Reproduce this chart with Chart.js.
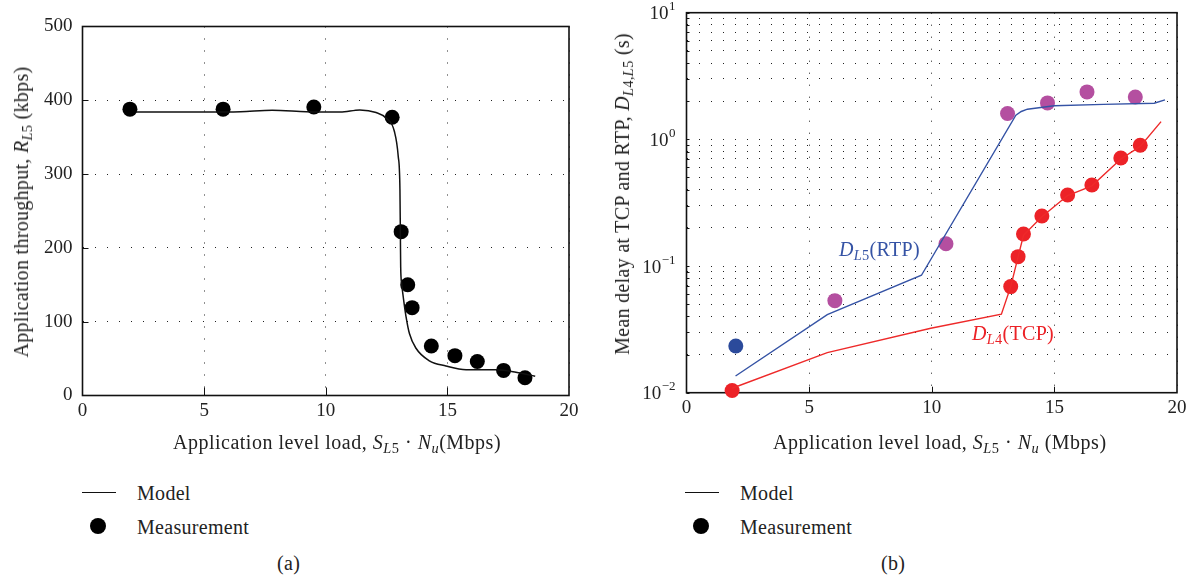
<!DOCTYPE html>
<html>
<head>
<meta charset="utf-8">
<script src="https://cdn.jsdelivr.net/npm/chart.js@4/dist/chart.umd.min.js"></script>
<style>
  html, body { margin: 0; padding: 0; background: #fff; }
  #wrap { position: relative; width: 1199px; height: 577px; overflow: hidden; background: #fff;
          font-family: "Liberation Serif", "DejaVu Serif", serif; color: #222; }
  canvas { position: absolute; top: 0; }
  .t { position: absolute; white-space: nowrap; font-size: 20px; line-height: 20px; letter-spacing: 0.3px; }
  .wide { letter-spacing: 0.5px; }
  .rot { transform: translate(-50%, -50%) rotate(-90deg); }
  sub { font-size: 0.72em; vertical-align: -0.28em; line-height: 0; }
  .line { position: absolute; height: 1.5px; background: #111; }
  .dot { position: absolute; width: 16px; height: 16px; border-radius: 50%; background: #000; }
</style>
</head>
<body>
<div id="wrap">
  <canvas id="chartA" width="600" height="460" style="left:0"></canvas>
  <canvas id="chartB" width="599" height="460" style="left:600px"></canvas>

  <div class="t wide" style="left:173px; top:432px;">Application level load, <i>S</i><sub><i>L</i>5</sub> · <i>N</i><sub><i>u</i></sub>(Mbps)</div>
  <div class="t rot" style="left:21px; top:212px;">Application throughput, <i>R</i><sub><i>L</i>5</sub> (kbps)</div>

  <div class="t wide" style="left:773px; top:432px;">Application level load, <i>S</i><sub><i>L</i>5</sub> · <i>N</i><sub><i>u</i></sub> (Mbps)</div>
  <div class="t rot" style="left:622px; top:194px;">Mean delay at TCP and RTP, <i>D</i><sub><i>L</i>4,<i>L</i>5</sub> (s)</div>

  <div class="t" style="left:839px; top:239px; color:#3553a5;"><i>D</i><sub><i>L</i>5</sub>(RTP)</div>
  <div class="t" style="left:972px; top:323px; color:#ec2227;"><i>D</i><sub><i>L</i>4</sub>(TCP)</div>

  <div class="line" style="left:82px; top:491.5px; width:34px;"></div>
  <div class="t" style="left:137px; top:483px;">Model</div>
  <div class="dot" style="left:90px; top:518px;"></div>
  <div class="t" style="left:137px; top:517px;">Measurement</div>
  <div class="t" style="left:277px; top:553px;">(a)</div>

  <div class="line" style="left:685px; top:491.5px; width:34px;"></div>
  <div class="t" style="left:740px; top:483px;">Model</div>
  <div class="dot" style="left:693px; top:518px;"></div>
  <div class="t" style="left:740px; top:517px;">Measurement</div>
  <div class="t" style="left:881px; top:553px;">(b)</div>
</div>

<script>
// ---- (a) application throughput vs. load ----
const loadMeasA = [1.95, 5.78, 9.51, 12.73, 13.10, 13.37, 13.55, 14.34, 15.31, 16.23, 17.31, 18.19];
const rateMeasA = [388, 388, 391, 377, 222, 150, 119, 67, 54, 46, 34, 24];

const loadModelA = [2.2, 3.5, 5.0, 6.5, 7.8, 9.2, 10.6, 11.4, 12.07, 12.48, 12.82, 12.98, 13.05, 13.07, 13.08, 13.12, 13.2, 13.3, 13.44, 13.71, 14.26, 14.94, 15.77, 17.0, 17.82, 18.61];
const rateModelA = [384, 384, 384, 384.5, 386.5, 384.5, 384, 387, 383.5, 376, 358, 324, 279, 211, 175, 152, 130, 107, 84, 64, 47, 40, 35, 35, 31.6, 26];

const loadTicks = [0, 5, 10, 15, 20];
const rateTicks = [0, 100, 200, 300, 400, 500];

// ---- (b) mean delay vs. load ----
const loadMeasRTP = [2.01, 6.05, 10.58, 13.09, 14.72, 16.33, 18.30];
const delayMeasRTP = [0.0234, 0.0533, 0.150, 1.60, 1.94, 2.37, 2.16];

const loadMeasTCP = [1.86, 13.22, 13.52, 13.74, 14.49, 15.54, 16.53, 17.71, 18.50];
const delayMeasTCP = [0.0104, 0.0688, 0.1186, 0.179, 0.248, 0.364, 0.436, 0.713, 0.898];

const loadModelRTP = [2.0, 5.74, 9.58, 13.43, 13.65, 13.9, 14.99, 17.0, 19.07, 19.51];
const delayModelRTP = [0.01355, 0.0413, 0.0846, 1.55, 1.66, 1.73, 1.84, 1.89, 1.93, 2.05];

const loadModelTCP = [1.86, 5.74, 9.96, 12.84, 13.22, 13.52, 13.74, 14.49, 15.54, 16.53, 17.71, 18.50, 19.35];
const delayModelTCP = [0.01084, 0.0207, 0.0323, 0.0417, 0.0688, 0.118, 0.175, 0.245, 0.36, 0.43, 0.70, 0.88, 1.38];

const delayDecades = [-2, -1, 0, 1];

const FONT = '"Liberation Serif", "DejaVu Serif", serif';
const pts = (xs, ys) => xs.map((x, i) => ({ x, y: ys[i] }));

// Log-scale grid values: 1..9 x 10^e for each decade, then the top decade.
const delayGrid = [];
for (let d = 0; d < delayDecades.length - 1; d++) {
  for (let m = 1; m <= 9; m++) delayGrid.push(m * Math.pow(10, delayDecades[d]));
}
delayGrid.push(Math.pow(10, delayDecades[delayDecades.length - 1]));

const dotted = { color: '#222', lineWidth: 1, drawTicks: false };
const dash = [1, 11];

// Frame around the plot area plus short inward tick marks.
function framePlugin(cfg) {
  return {
    id: 'frame',
    beforeDatasetsDraw(chart) {
      const { ctx, chartArea: a } = chart;
      ctx.save();
      ctx.strokeStyle = '#111';
      ctx.lineWidth = 1;
      for (const t of cfg.xMarks) {
        const px = Math.round(chart.scales.x.getPixelForValue(t)) + 0.5;
        ctx.beginPath(); ctx.moveTo(px, a.bottom); ctx.lineTo(px, a.bottom - cfg.xLen); ctx.stroke();
      }
      for (const t of cfg.yMarks) {
        const py = Math.round(chart.scales.y.getPixelForValue(t)) + 0.5;
        ctx.beginPath(); ctx.moveTo(a.left, py); ctx.lineTo(a.left + cfg.yLen, py); ctx.stroke();
      }
      ctx.lineWidth = 1.6;
      ctx.strokeRect(a.left, a.top, a.right - a.left, a.bottom - a.top);
      ctx.restore();
    }
  };
}

// Power-of-ten tick labels for the logarithmic axis.
const powerLabels = {
  id: 'powerLabels',
  afterDraw(chart) {
    const { ctx, chartArea: a } = chart;
    const y = chart.scales.y;
    ctx.save();
    ctx.fillStyle = '#222';
    ctx.textBaseline = 'alphabetic';
    for (const e of delayDecades) {
      const py = y.getPixelForValue(Math.pow(10, e));
      const exp = e < 0 ? '\u2212' + Math.abs(e) : String(e);
      ctx.font = '13px ' + FONT;
      const wExp = ctx.measureText(exp).width;
      ctx.font = '19px ' + FONT;
      const wBase = ctx.measureText('10').width;
      const right = a.left - 11;
      ctx.fillText('10', right - wExp - wBase - 0.5, py + 6.5);
      ctx.font = '13px ' + FONT;
      ctx.fillText(exp, right - wExp, py - 2.5);
    }
    ctx.restore();
  }
};

new Chart(document.getElementById('chartA'), {
  type: 'scatter',
  data: {
    datasets: [
      {
        label: 'Model',
        data: pts(loadModelA, rateModelA),
        showLine: true,
        borderColor: '#111',
        borderWidth: 1.5,
        pointRadius: 0,
        cubicInterpolationMode: 'monotone'
      },
      {
        label: 'Measurement',
        data: pts(loadMeasA, rateMeasA),
        backgroundColor: '#000',
        borderWidth: 0,
        pointRadius: 7.5,
        clip: false
      }
    ]
  },
  options: {
    responsive: false,
    animation: false,
    layout: { padding: { left: 0, right: 31, top: 26.5, bottom: 0 } },
    plugins: { legend: { display: false }, tooltip: { enabled: false } },
    scales: {
      x: {
        type: 'linear', min: 0, max: 20,
        afterBuildTicks: s => { s.ticks = loadTicks.map(v => ({ value: v })); },
        afterFit: s => { s.height = 64.5; },
        grid: { ...dotted },
        border: { display: false, dash: dash },
        ticks: { padding: 4, color: '#222', font: { family: FONT, size: 19 } }
      },
      y: {
        type: 'linear', min: 0, max: 500,
        afterBuildTicks: s => { s.ticks = rateTicks.map(v => ({ value: v })); },
        afterFit: s => { s.width = 82.5; },
        grid: { ...dotted },
        border: { display: false, dash: dash },
        ticks: { padding: 10, color: '#222', font: { family: FONT, size: 19 } }
      }
    }
  },
  plugins: [framePlugin({ xMarks: [5, 10, 15], xLen: 8, yMarks: [100, 200, 300, 400], yLen: 6 })]
});

new Chart(document.getElementById('chartB'), {
  type: 'scatter',
  data: {
    datasets: [
      {
        label: 'RTP model',
        data: pts(loadModelRTP, delayModelRTP),
        showLine: true,
        borderColor: '#3553a5',
        borderWidth: 1.4,
        pointRadius: 0,
        tension: 0
      },
      {
        label: 'TCP model',
        data: pts(loadModelTCP, delayModelTCP),
        showLine: true,
        borderColor: '#ee2a2a',
        borderWidth: 1.4,
        pointRadius: 0,
        tension: 0
      },
      {
        label: 'RTP measurement',
        data: pts(loadMeasRTP, delayMeasRTP),
        backgroundColor: loadMeasRTP.map((_, i) => i === 0 ? '#2b4a9b' : '#b44fa0'),
        borderWidth: 0,
        pointRadius: 7.5,
        clip: false
      },
      {
        label: 'TCP measurement',
        data: pts(loadMeasTCP, delayMeasTCP),
        backgroundColor: '#ec2227',
        borderWidth: 0,
        pointRadius: 7.5,
        clip: false
      }
    ]
  },
  options: {
    responsive: false,
    animation: false,
    layout: { padding: { left: 0, right: 22, top: 12.7, bottom: 0 } },
    plugins: { legend: { display: false }, tooltip: { enabled: false } },
    scales: {
      x: {
        type: 'linear', min: 0, max: 20,
        afterBuildTicks: s => { s.ticks = loadTicks.map(v => ({ value: v })); },
        afterFit: s => { s.height = 67.3; },
        grid: { ...dotted },
        border: { display: false, dash: dash },
        ticks: { padding: 4, color: '#222', font: { family: FONT, size: 19 } }
      },
      y: {
        type: 'logarithmic', min: 0.01, max: 10,
        afterBuildTicks: s => { s.ticks = delayGrid.map(v => ({ value: v })); },
        afterFit: s => { s.width = 86.5; },
        grid: { ...dotted },
        border: { display: false, dash: dash },
        ticks: { display: false }
      }
    }
  },
  plugins: [framePlugin({ xMarks: [5, 10, 15], xLen: 6, yMarks: delayGrid, yLen: 3 }), powerLabels]
});
</script>
</body>
</html>
